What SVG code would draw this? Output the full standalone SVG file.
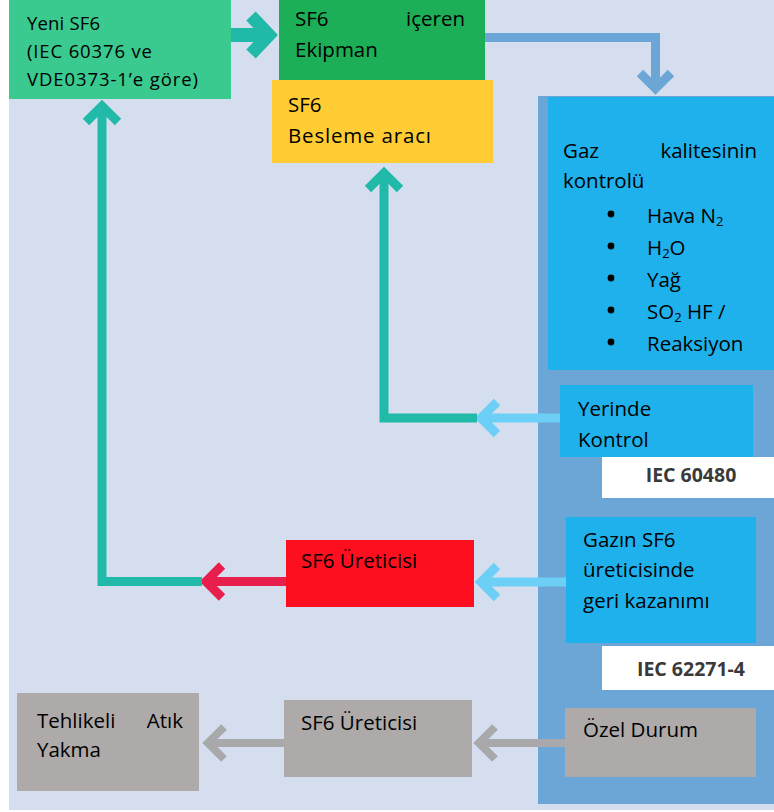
<svg xmlns="http://www.w3.org/2000/svg" width="774" height="812" viewBox="0 0 774 812">
<style>
text{font-family:"Open Sans","Liberation Sans",sans-serif;font-size:20.5px;fill:#000}
.s{font-size:18.5px}
.b{font-weight:bold;font-size:19.5px;fill:#3a3a3a}
.sub{font-size:13px}
.cy{fill:#1FB1EC}
.gr{fill:#AEAAA9}
.wh{fill:#FFFFFF}
.ln{fill:none;stroke-linejoin:miter;stroke-linecap:butt}
</style>
<rect x="0" y="0" width="774" height="812" fill="#FFFFFF"/>
<rect x="9" y="0" width="765" height="810" fill="#D5DEEE"/>
<rect id="panel" x="538" y="96" width="236" height="708" fill="#6BA6D7"/>

<g id="connectors">
  <path class="ln" d="M231 35 H268" stroke="#21B9A7" stroke-width="14"/>
  <path class="ln" d="M251 16 L269 35 L251 54" stroke="#21B9A7" stroke-width="13"/>
  <path class="ln" d="M485 37.5 H655.5 V88" stroke="#6BA6D7" stroke-width="9"/>
  <path class="ln" d="M640 73 L655.5 88.5 L671 73" stroke="#6BA6D7" stroke-width="9"/>
  <path class="ln" d="M560 418 H482" stroke="#6DCFF6" stroke-width="9"/>
  <path class="ln" d="M497 402 L481 418 L497 434" stroke="#6DCFF6" stroke-width="9"/>
  <path class="ln" d="M477 418 H384 V174" stroke="#21B9A7" stroke-width="9"/>
  <path class="ln" d="M368 189 L384 173 L400 189" stroke="#21B9A7" stroke-width="9"/>
  <path class="ln" d="M566 582 H482" stroke="#6DCFF6" stroke-width="9"/>
  <path class="ln" d="M497 566 L481 582 L497 598" stroke="#6DCFF6" stroke-width="9"/>
  <path class="ln" d="M286 581.5 H207" stroke="#E81E4C" stroke-width="9"/>
  <path class="ln" d="M222 565.5 L206 581.5 L222 597.5" stroke="#E81E4C" stroke-width="9"/>
  <path class="ln" d="M202 581.5 H102 V107" stroke="#21B9A7" stroke-width="9"/>
  <path class="ln" d="M86 122 L102 106 L118 122" stroke="#21B9A7" stroke-width="9"/>
  <path class="ln" d="M565 743 H480" stroke="#A9A9AC" stroke-width="8"/>
  <path class="ln" d="M495 727 L479 743 L495 759" stroke="#A9A9AC" stroke-width="8"/>
  <path class="ln" d="M284 743 H209" stroke="#A9A9AC" stroke-width="8"/>
  <path class="ln" d="M224 727 L208 743 L224 759" stroke="#A9A9AC" stroke-width="8"/>
</g>

<g id="yeni-sf6">
  <rect x="9" y="0" width="222" height="99" fill="#3AC98F"/>
  <text class="s" x="27" y="30" textLength="73" lengthAdjust="spacing">Yeni SF6</text>
  <text class="s" x="27" y="58" textLength="125" lengthAdjust="spacing">(IEC 60376 ve</text>
  <text class="s" x="27" y="86" textLength="171" lengthAdjust="spacing">VDE0373-1’e göre)</text>
</g>

<g id="ekipman">
  <rect x="279" y="0" width="206" height="80" fill="#1DAF57"/>
  <text x="295" y="26">SF6</text>
  <text x="465" y="26" text-anchor="end">içeren</text>
  <text x="295" y="57">Ekipman</text>
</g>

<g id="besleme">
  <rect x="272" y="80" width="221" height="83" fill="#FFCC33"/>
  <text x="288" y="112">SF6</text>
  <text x="288" y="143" textLength="143" lengthAdjust="spacing">Besleme aracı</text>
</g>

<g id="gaz-kalitesi">
  <rect class="cy" x="548" y="97" width="226" height="273"/>
  <text x="563" y="158">Gaz</text>
  <text x="757" y="158" text-anchor="end">kalitesinin</text>
  <text x="563" y="188">kontrolü</text>
  <circle cx="611" cy="214" r="3.4"/>
  <circle cx="611" cy="246" r="3.4"/>
  <circle cx="611" cy="278" r="3.4"/>
  <circle cx="611" cy="310" r="3.4"/>
  <circle cx="611" cy="342" r="3.4"/>
  <text x="647" y="223">Hava N<tspan class="sub" dy="3">2</tspan></text>
  <text x="647" y="255">H<tspan class="sub" dy="3">2</tspan><tspan dy="-3">O</tspan></text>
  <text x="647" y="287">Yağ</text>
  <text x="647" y="319">SO<tspan class="sub" dy="3">2</tspan><tspan dy="-3"> HF /</tspan></text>
  <text x="647" y="351">Reaksiyon</text>
</g>

<g id="yerinde">
  <rect class="cy" x="560" y="385" width="193" height="72"/>
  <text x="578" y="416">Yerinde</text>
  <text x="578" y="447">Kontrol</text>
</g>

<g id="iec60480">
  <rect class="wh" x="602" y="457" width="172" height="41"/>
  <text class="b" x="691" y="482" text-anchor="middle">IEC 60480</text>
</g>

<g id="gazin">
  <rect class="cy" x="566" y="517" width="190" height="126"/>
  <text x="583" y="547">Gazın SF6</text>
  <text x="583" y="577">üreticisinde</text>
  <text x="583" y="608">geri kazanımı</text>
</g>

<g id="iec62271">
  <rect class="wh" x="602" y="646" width="172" height="44"/>
  <text class="b" x="691" y="676" text-anchor="middle">IEC 62271-4</text>
</g>

<g id="sf6-ureticisi-red">
  <rect x="286" y="540" width="188" height="67" fill="#FD0F1F"/>
  <text x="301" y="568">SF6 Üreticisi</text>
</g>

<g id="tehlikeli">
  <rect class="gr" x="17" y="693" width="182" height="98"/>
  <text x="37" y="728">Tehlikeli</text>
  <text x="183" y="728" text-anchor="end">Atık</text>
  <text x="37" y="757">Yakma</text>
</g>

<g id="sf6-ureticisi-gray">
  <rect class="gr" x="284" y="700" width="188" height="77"/>
  <text x="301" y="730">SF6 Üreticisi</text>
</g>

<g id="ozel">
  <rect class="gr" x="565" y="708" width="191" height="69"/>
  <text x="583" y="737">Özel Durum</text>
</g>
</svg>
